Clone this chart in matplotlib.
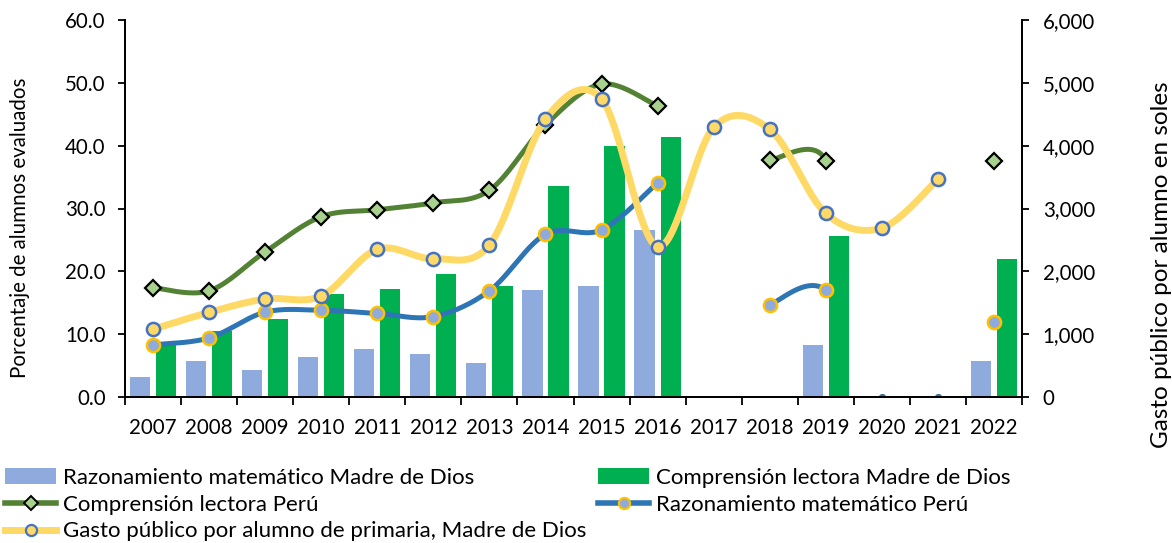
import numpy as np
import matplotlib
matplotlib.use("Agg")
import matplotlib.pyplot as plt
from matplotlib.patches import Patch
from matplotlib.lines import Line2D

plt.rcParams['font.family'] = ['Lato', 'DejaVu Sans']

# Datos (nan = celda vacia, 0 = valor cero sin linea)
anios = [str(a) for a in range(2007, 2023)]
nan = np.nan
raz_mdd = [3.2, 5.7, 4.3, 6.3, 7.7, 6.8, 5.4, 17.1, 17.6, 26.6, nan, nan, 8.3, nan, nan, 5.7]
comp_mdd = [8.4, 10.5, 12.4, 16.4, 17.2, 19.6, 17.7, 33.6, 40.0, 41.3, nan, nan, 25.6, nan, nan, 22.0]
comp_peru = [17.4, 16.9, 23.1, 28.7, 29.8, 30.9, 32.9, 43.3, 49.8, 46.3, nan, 37.7, 37.6, 0.0, 0.0, 37.6]
raz_peru = [8.3, 9.4, 13.5, 13.8, 13.3, 12.8, 16.9, 25.9, 26.6, 34.1, nan, 14.7, 17.0, 0.0, 0.0, 12.0]
gasto = [1077, 1348, 1560, 1607, 2350, 2201, 2419, 4420, 4743, 2392, 4292, 4260, 2923, 2690, 3464, nan]

# Colores
c_raz_bar = '#8FAADC'
c_comp_bar = '#00B050'
c_comp_line = '#548235'
c_comp_mk = '#A9D18E'
c_raz_line = '#2E75B6'
c_raz_mk = '#8FAADC'
c_raz_edge = '#FFC000'
c_gasto = '#FFD966'
c_gasto_edge = '#4472C4'


def suavizar(ax, x, y, n=40):
    # linea suavizada como en Excel: Bezier calculado en pixeles.
    # tramos = valores > 0 seguidos; para las tangentes cuenta el vecino
    # si tiene numero (tambien 0), si esta vacio se repite el extremo
    x = np.asarray(x, float)
    y = np.asarray(y, float)
    tr = ax.transData
    P = tr.transform(np.column_stack([x, np.nan_to_num(y)]))
    hay = ~np.isnan(y)
    enlinea = hay & (np.nan_to_num(y) != 0)
    curvas = []
    t = np.linspace(0, 1, n)[:, None]
    i = 0
    while i < len(y):
        if not enlinea[i]:
            i += 1
            continue
        j = i
        while j + 1 < len(y) and enlinea[j + 1]:
            j += 1
        partes = []
        for k in range(i, j):
            p1, p2 = P[k], P[k + 1]
            p0 = P[k - 1] if k - 1 >= 0 and hay[k - 1] else p1
            p3 = P[k + 2] if k + 2 < len(y) and hay[k + 2] else p2
            d12 = np.hypot(*(p2 - p1))
            d02 = np.hypot(*(p2 - p0))
            d13 = np.hypot(*(p3 - p1))
            f = 1 / 6
            g = 1 / 6
            if d02 / 6 >= d12 / 2 and d02 > 0:
                f = d12 / d02 / 2
            if d13 / 6 >= d12 / 2 and d13 > 0:
                g = d12 / d13 / 2
            c1 = p1 + f * (p2 - p0)
            c2 = p2 - g * (p3 - p1)
            seg = (1 - t)**3 * p1 + 3 * (1 - t)**2 * t * c1 + 3 * (1 - t) * t**2 * c2 + t**3 * p2
            partes.append(seg if k == i else seg[1:])
        if partes:
            q = tr.inverted().transform(np.vstack(partes))
            curvas.append((q[:, 0], q[:, 1]))
        i = j + 1
    return curvas


x = np.arange(len(anios))

fig = plt.figure(figsize=(11.72, 5.43), dpi=100)
ax1 = fig.add_axes([125 / 1172, 1 - 397 / 543, (1022 - 125) / 1172, 377 / 543])
ax2 = ax1.twinx()

# Ejes (antes de las curvas, que se calculan en pixeles)
ax1.set_xlim(-0.5, len(anios) - 0.5)
ax2.set_xlim(-0.5, len(anios) - 0.5)
ax1.set_ylim(0, 60)
ax2.set_ylim(0, 6000)

ancho = 0.36
ax1.bar(x - 0.232, raz_mdd, ancho, color=c_raz_bar, zorder=2)
ax1.bar(x + 0.232, comp_mdd, ancho, color=c_comp_bar, zorder=2)

# Comprension lectora Peru
cp = np.array(comp_peru, float)
for sx, sy in suavizar(ax1, x, cp):
    ax1.plot(sx, sy, color=c_comp_line, lw=3.6, solid_capstyle='round', zorder=3)
ax1.plot(x, np.where(cp == 0, np.nan, cp), ls='none', marker='D', ms=8,
         mfc=c_comp_mk, mec='black', mew=1.6, zorder=4)
ax1.plot(x[cp == 0], cp[cp == 0], ls='none', marker='o', ms=5, mfc=c_comp_line, mec='none', zorder=1.4)

# Razonamiento matematico Peru (los ceros solo se ven como puntitos)
rp = np.array(raz_peru, float)
for sx, sy in suavizar(ax1, x, rp):
    ax1.plot(sx, sy, color=c_raz_line, lw=3.6, solid_capstyle='round', zorder=5)
ax1.plot(x, np.where(rp == 0, np.nan, rp), ls='none', marker='o', ms=9.5,
         mfc=c_raz_mk, mec=c_raz_edge, mew=1.8, zorder=6)
ax1.plot(x[rp == 0], rp[rp == 0], ls='none', marker='o', ms=5, mfc=c_raz_line, mec='none', zorder=1.5)

# Gasto publico (eje derecho)
for sx, sy in suavizar(ax2, x, gasto):
    ax2.plot(sx, sy, color=c_gasto, lw=5, solid_capstyle='round', zorder=3)
ax2.plot(x, gasto, ls='none', marker='o', ms=9.5, mfc=c_gasto, mec=c_gasto_edge, mew=1.8, zorder=4)

ax1.set_yticks(np.arange(0, 61, 10))
ax1.set_yticklabels(['%.1f' % v for v in np.arange(0, 61, 10)])
ax2.set_yticks(np.arange(0, 6001, 1000))
ax2.set_yticklabels(['{:,.0f}'.format(v) for v in np.arange(0, 6001, 1000)])
ax1.set_xticks(np.arange(-0.5, len(anios), 1.0))
ax1.set_xticklabels([])
ax1.set_xticks(x, minor=True)
ax1.set_xticklabels(anios, minor=True)
ax1.tick_params(axis='x', which='major', direction='out', length=6, width=1.3, color='black')
ax1.tick_params(axis='x', which='minor', length=0, pad=15, labelsize=14.8)
ax1.tick_params(axis='y', direction='out', length=5, width=1.3, pad=9, labelsize=14.8)
ax2.tick_params(axis='y', direction='out', length=5, width=1.3, pad=10, labelsize=14.8)

for a in (ax1, ax2):
    a.spines['top'].set_visible(False)
    for s in ('left', 'right', 'bottom'):
        a.spines[s].set_linewidth(1.3)
        a.spines[s].set_color('black')
ax1.set_zorder(1)
ax2.set_zorder(2)
ax1.patch.set_visible(False)
ax2.patch.set_visible(False)

fig.text(20 / 1172, 1 - 228 / 543, 'Porcentaje de alumnos evaluados', rotation=90,
         ha='center', va='center', fontsize=14.8)
fig.text(1161 / 1172, 1 - 265 / 543, 'Gasto público por alumno en soles', rotation=90,
         ha='center', va='center', fontsize=17.5)

# Leyenda
h_raz_bar = Patch(facecolor=c_raz_bar, edgecolor='none')
h_comp_bar = Patch(facecolor=c_comp_bar, edgecolor='none')
h_comp = Line2D([], [], color=c_comp_line, lw=4, marker='D', ms=7, mfc=c_comp_mk, mec='black', mew=1.4)
h_raz = Line2D([], [], color=c_raz_line, lw=4, marker='o', ms=8, mfc=c_raz_mk, mec=c_raz_edge, mew=1.6)
h_gasto = Line2D([], [], color=c_gasto, lw=5, marker='o', ms=8, mfc=c_gasto, mec=c_gasto_edge, mew=1.6)
fig.legend([h_raz_bar, h_comp, h_gasto, h_comp_bar, h_raz],
           ['Razonamiento matemático Madre de Dios', 'Comprensión lectora Perú',
            'Gasto público por alumno de primaria, Madre de Dios',
            'Comprensión lectora Madre de Dios', 'Razonamiento matemático Perú'],
           ncol=2, loc='upper left', bbox_to_anchor=(5 / 1172, 1 - 468 / 543),
           frameon=False, fontsize=16, handlelength=2.3, handletextpad=0.3,
           columnspacing=0.55, labelspacing=0.3, borderpad=0, borderaxespad=0)

fig.savefig('out.png', dpi=100)
